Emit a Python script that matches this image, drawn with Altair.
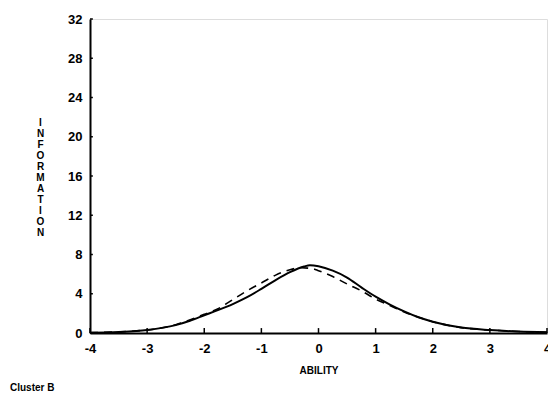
import altair as alt
import pandas as pd

theta_solid = [-4, -3.5, -3, -2.5, -2.25, -2, -1.75, -1.5, -1.25, -1, -0.75, -0.5, -0.25, -0.15,
               0, 0.25, 0.5, 0.75, 1, 1.25, 1.5, 1.75, 2, 2.5, 3, 3.5, 4]
info_solid = [0.03, 0.1, 0.3, 0.8, 1.25, 1.8, 2.35, 2.95, 3.65, 4.5, 5.4, 6.2, 6.78, 6.9,
              6.8, 6.35, 5.65, 4.65, 3.7, 2.9, 2.2, 1.6, 1.15, 0.55, 0.3, 0.15, 0.08]

theta_dashed = [-4, -3, -2.5, -2, -1.75, -1.5, -1.25, -1, -0.75, -0.5, -0.3, -0.1,
                0, 0.25, 0.5, 0.75, 1, 1.25, 1.5, 1.75, 2, 2.5, 3, 3.5, 4]
info_dashed = [0.03, 0.3, 0.85, 1.9, 2.5, 3.4, 4.3, 5.1, 5.9, 6.45, 6.65, 6.55,
               6.35, 5.75, 5.0, 4.3, 3.45, 2.8, 2.15, 1.6, 1.15, 0.55, 0.3, 0.15, 0.08]

x_ticks = [-4, -3, -2, -1, 0, 1, 2, 3, 4]
y_ticks = [0, 4, 8, 12, 16, 20, 24, 28, 32]

FONT = "Liberation Sans"

solid_df = pd.DataFrame({"theta": theta_solid, "info": info_solid})
dashed_df = pd.DataFrame({"theta": theta_dashed, "info": info_dashed})
xt_df = pd.DataFrame({"t": x_ticks, "y0": [0] * len(x_ticks), "y1": [0.5] * len(x_ticks)})
yt_df = pd.DataFrame({"v": y_ticks, "x0": [-4] * len(y_ticks), "x1": [-3.95] * len(y_ticks)})

xscale = alt.Scale(domain=[-4, 4], nice=False, zero=False)
yscale = alt.Scale(domain=[0, 32], nice=False)

xaxis = alt.Axis(values=x_ticks, format="d", labelOverlap=False,
                 labelExpr="replace(datum.label, '\u2212', '-')",
                 title="ABILITY", titleFontSize=10, titlePadding=10)
yaxis = alt.Axis(values=y_ticks, format="d", labelOverlap=False,
                 title=list("INFORMATION"), titleFontSize=10, titleAngle=0,
                 titleLineHeight=11.1, titleAlign="center", titleBaseline="top",
                 titleX=-50, titleY=98, labelPadding=8)

solid = alt.Chart(solid_df).mark_line(color="black", strokeWidth=2, interpolate="monotone").encode(
    x=alt.X("theta:Q", scale=xscale, axis=xaxis),
    y=alt.Y("info:Q", scale=yscale, axis=yaxis),
)
dashed = alt.Chart(dashed_df).mark_line(color="black", strokeWidth=1.6, strokeDash=[8, 6],
                                         interpolate="monotone").encode(
    x=alt.X("theta:Q", scale=xscale, axis=xaxis),
    y=alt.Y("info:Q", scale=yscale, axis=yaxis),
)
xt = alt.Chart(xt_df).mark_rule(color="black", strokeWidth=1.5).encode(
    x=alt.X("t:Q", scale=xscale, axis=xaxis),
    y=alt.Y("y0:Q", scale=yscale, axis=yaxis), y2="y1:Q")
yt = alt.Chart(yt_df).mark_rule(color="black", strokeWidth=1.5).encode(
    y=alt.Y("v:Q", scale=yscale, axis=yaxis),
    x=alt.X("x0:Q", scale=xscale, axis=xaxis), x2="x1:Q")

chart = alt.layer(solid, dashed, xt, yt).properties(
    width=457, height=314,
    autosize=alt.AutoSizeParams(type="none"),
    padding={"left": 90, "top": 19, "right": 1, "bottom": 66},
    title=alt.TitleParams(text="Cluster B", orient="bottom", anchor="start", frame="group",
                          font=FONT, fontSize=10, fontWeight="bold", color="black",
                          dx=-80, offset=8),
).configure_view(stroke=None).configure(background="white").configure_axis(
    ticks=False, tickSize=0, grid=False, domainColor="black", domainWidth=2,
    labelFont=FONT, labelFontSize=13, labelFontWeight="bold", labelColor="black",
    labelPadding=9, labelFlush=False, labelOverlap=False,
    titleFont=FONT, titleFontWeight="bold", titleColor="black",
)

chart.save("out.html", embed_options={"renderer": "svg", "actions": False})
